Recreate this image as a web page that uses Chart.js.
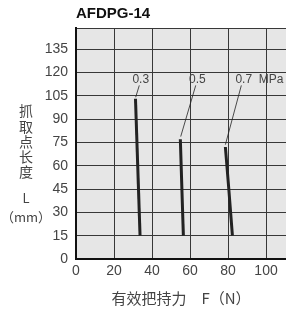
<!DOCTYPE html>
<html>
<head>
<meta charset="utf-8">
<script src="https://cdn.jsdelivr.net/npm/chart.js@4.4.1/dist/chart.umd.min.js"></script>
<style>
  html, body { margin: 0; padding: 0; background: #fff; }
</style>
</head>
<body>
<canvas id="chart" width="286" height="311"></canvas>
<script>
const TITLE = "AFDPG-14";
const X_TITLE = "有效把持力　F（N）";
const Y_TITLE = ["抓", "取", "点", "长", "度", "L", "（mm）"];

const X_TICKS = [0, 20, 40, 60, 80, 100];
const Y_TICKS = [0, 15, 30, 45, 60, 75, 90, 105, 120, 135];

// pressure curves: grip force F vs. grip point length L
const F_03 = [31.3, 33.7];
const L_03 = [103, 15];
const F_05 = [54.9, 56.5];
const L_05 = [77, 15];
const F_07 = [78.6, 80.4, 82.3];
const L_07 = [72, 45, 15];

// leader lines from labels to curves
const LEAD_F_03 = [33.3, 31.4];
const LEAD_L_03 = [111.6, 104];
const LEAD_F_05 = [63, 55.1];
const LEAD_L_05 = [111.6, 78.7];
const LEAD_F_07 = [87, 78.6];
const LEAD_L_07 = [111.6, 73.5];

const LABELS = ["0.3", "0.5", "0.7  MPa"];
const LABEL_F = [29.7, 59.5, 83.9];
const LABEL_L = [115.4, 115.4, 115.4];

const SANS = "'Liberation Sans', Arial, sans-serif";
const CJK = "'Noto Sans CJK SC', sans-serif";
const TEXT = "#444";

function pts(xs, ys) {
  return xs.map((x, i) => ({ x, y: ys[i] }));
}

const curve = (xs, ys) => ({
  data: pts(xs, ys),
  showLine: true,
  borderColor: "#222",
  borderWidth: 3,
  pointRadius: 0,
  tension: 0,
});

const leader = (xs, ys) => ({
  data: pts(xs, ys),
  showLine: true,
  borderColor: "#222",
  borderWidth: 0.8,
  pointRadius: 0,
});

const decor = {
  id: "decor",
  beforeDraw(chart) {
    const { ctx, chartArea: a } = chart;
    ctx.save();
    ctx.fillStyle = "#e6e6e6";
    ctx.fillRect(a.left, a.top, a.right - a.left, a.bottom - a.top);
    ctx.restore();
  },
  afterDraw(chart) {
    const { ctx, scales } = chart;
    ctx.save();
    // pressure labels
    ctx.fillStyle = "#444";
    ctx.font = "12px " + SANS;
    ctx.textAlign = "left";
    ctx.textBaseline = "middle";
    LABELS.forEach((t, i) => {
      ctx.fillText(t, scales.x.getPixelForValue(LABEL_F[i]), scales.y.getPixelForValue(LABEL_L[i]));
    });
    // stacked y axis title
    ctx.fillStyle = TEXT;
    ctx.textAlign = "center";
    const ys = [111, 126.2, 141.4, 156.6, 171.8, 198, 217];
    Y_TITLE.forEach((t, i) => {
      ctx.font = (i < 5 ? "14px " + CJK : "13px " + CJK);
      ctx.fillText(t, 26, ys[i]);
    });
    ctx.restore();
  },
};

new Chart(document.getElementById("chart"), {
  type: "scatter",
  data: {
    datasets: [
      curve(F_03, L_03),
      curve(F_05, L_05),
      curve(F_07, L_07),
      leader(LEAD_F_03, LEAD_L_03),
      leader(LEAD_F_05, LEAD_L_05),
      leader(LEAD_F_07, LEAD_L_07),
    ],
  },
  options: {
    responsive: false,
    animation: false,
    devicePixelRatio: 1,
    layout: { padding: 0 },
    plugins: {
      legend: { display: false },
      tooltip: { enabled: false },
      title: {
        display: true,
        text: TITLE,
        align: "start",
        fullSize: false,
        color: "#111",
        font: { family: SANS, size: 15, weight: "bold" },
        padding: { top: 5, bottom: 5 },
      },
    },
    scales: {
      x: {
        type: "linear",
        min: 0,
        max: 110.5,
        afterBuildTicks: (s) => { s.ticks = X_TICKS.map((v) => ({ value: v })); },
        afterFit: (s) => { s.height = 52; },
        ticks: { color: TEXT, padding: 4, font: { family: SANS, size: 14 } },
        grid: { color: "#383838", lineWidth: 1, drawTicks: false },
        border: { color: "#111", width: 2 },
        title: {
          display: true,
          text: X_TITLE,
          color: TEXT,
          font: { family: CJK, size: 15 },
          padding: { top: 0, bottom: 4 },
        },
      },
      y: {
        min: 0,
        max: 148.5,
        afterBuildTicks: (s) => { s.ticks = [...Y_TICKS, 148.5].map((v) => ({ value: v })); },
        afterFit: (s) => { s.width = 76; },
        ticks: {
          color: TEXT,
          padding: 8,
          font: { family: SANS, size: 14 },
          callback: (v) => (Y_TICKS.includes(v) ? v : ""),
        },
        grid: { color: "#383838", lineWidth: 1, drawTicks: false },
        border: { color: "#111", width: 2 },
      },
    },
  },
  plugins: [decor],
});
</script>
</body>
</html>
